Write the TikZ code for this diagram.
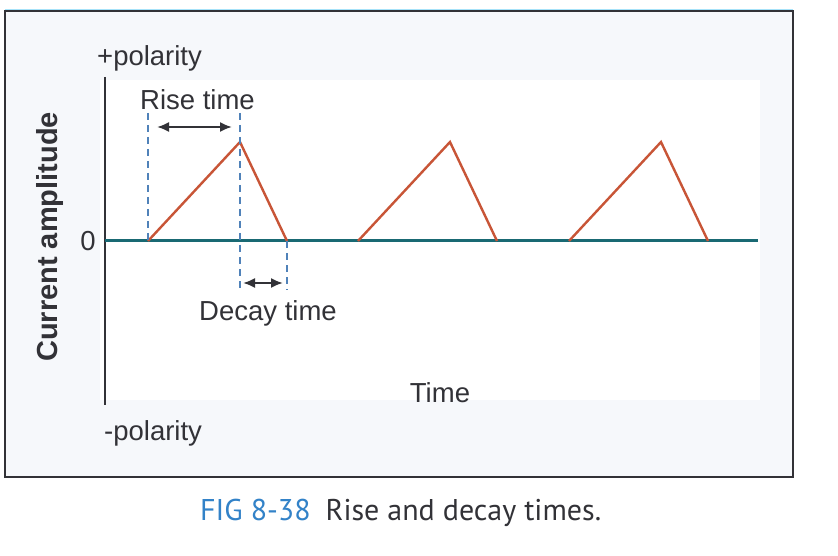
\documentclass[tikz,border=0pt]{standalone}
\usepackage{fontspec}
\setmainfont{Liberation Sans}
\newfontfamily\capfont{PT Sans}
\usetikzlibrary{arrows.meta}
\definecolor{pulse}{RGB}{200,85,55}
\definecolor{baseclr}{RGB}{25,105,115}
\definecolor{guideclr}{RGB}{80,130,185}
\definecolor{ink}{RGB}{50,50,55}
\definecolor{capblue}{RGB}{50,130,200}
\definecolor{paper}{RGB}{246,248,251}
\begin{document}
\begin{tikzpicture}[x=1pt,y=-1pt,
  lbl/.style={font=\fontsize{27.5}{31}\selectfont, text=ink, inner sep=0pt},
  pulseline/.style={draw=pulse, line width=2.4pt, line join=miter},
  guide/.style={draw=guideclr, dash pattern=on 7pt off 5pt, line width=1.1pt},
  span/.style={draw=ink, line width=2pt, {Latex[length=12pt,width=10pt]}-{Latex[length=12pt,width=10pt]}},
]
\useasboundingbox (0,0) rectangle (838,556);
\fill[white] (0,0) rectangle (838,556);
\draw[cyan!35, line width=1pt] (5,9.5) -- (793,9.5);
\filldraw[fill=paper, draw=ink, line width=2.2pt] (5,11) rectangle (793,477);
\fill[white] (100,80) rectangle (760,400);

% axes
\coordinate (ytop) at (105,77);
\coordinate (ybot) at (105,405);
\coordinate (xstart) at (105,241);
\coordinate (xend) at (758,241);
\draw[ink, line width=2.4pt] (ytop) -- (ybot);
\draw[baseclr, line width=3pt] (xstart) -- (xend);

% pulses
\foreach \s [count=\i] in {148,358,569} {
  \coordinate (s\i) at (\s,241);
  \coordinate (p\i) at (\s+92,142);
  \coordinate (e\i) at (\s+139,241);
  \draw[pulseline] (s\i) -- (p\i) -- (e\i);
}

% guides
\coordinate (g1t) at (148,113);
\coordinate (g2t) at (240,113);
\coordinate (g2b) at (240,290);
\coordinate (g3b) at (287,290);
\draw[guide] (g1t) -- (s1);
\draw[guide] (g2t) -- (g2b);
\draw[guide] (e1) -- (g3b);

% spans
\coordinate (r1) at (157,127);
\coordinate (r2) at (232,127);
\coordinate (d1) at (243,283);
\coordinate (d2) at (283,283);
\draw[span] (r1) -- (r2);
\draw[span] (d1) -- (d2);

% labels
\node[lbl, anchor=west] (pp) at (97,58) {+polarity};
\node[lbl, anchor=west] (np) at (104,433) {-polarity};
\node[lbl, anchor=west] (rise) at (140,100) {Rise time};
\node[lbl, anchor=west] (decay) at (199,313) {Decay time};
\node[lbl] (time) at (440,393) {Time};
\node[lbl] (zero) at (88,241) {0};
\node[lbl, font=\fontsize{29}{33}\selectfont\bfseries, rotate=90] (amp) at (50,237) {Current amplitude};

% caption
\node[inner sep=0pt, anchor=west, font=\capfont\fontsize{30}{34}\selectfont] (cap) at (200,513)
  {\textcolor{capblue}{FIG 8-38}\hspace{0.5em}\textcolor{ink}{Rise and decay times.}};
\end{tikzpicture}
\end{document}
